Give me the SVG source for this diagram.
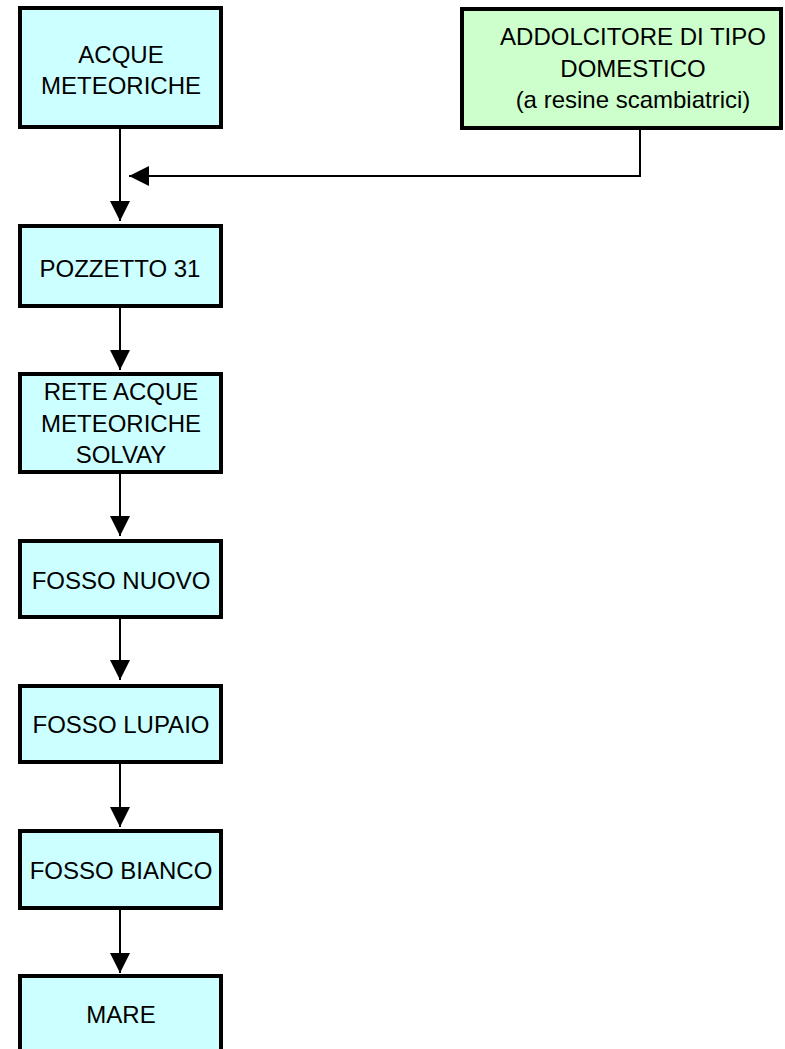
<svg xmlns="http://www.w3.org/2000/svg" width="785" height="1049" viewBox="0 0 785 1049">
<style>
.box{stroke:#000;stroke-width:4}
.cyan{fill:#CCFFFF}
.green{fill:#CCFFCC}
text{font-family:"Liberation Sans",Arial,sans-serif;font-size:24px;fill:#000;text-anchor:middle}
.conn{stroke:#000;stroke-width:2;fill:none}
</style>
<defs>
<marker id="ah" viewBox="0 0 20 20" refX="20" refY="10" markerWidth="20" markerHeight="20" markerUnits="userSpaceOnUse" orient="auto">
<path d="M0,0 L20,10 L0,20 Z" fill="#000"/>
</marker>
</defs>
<rect width="785" height="1049" fill="#fff"/>
<g id="connectors">
<line class="conn" x1="120" y1="129" x2="120" y2="221" marker-end="url(#ah)"/>
<polyline class="conn" points="640,130 640,176 129,176" marker-end="url(#ah)"/>
<line class="conn" x1="120" y1="308" x2="120" y2="370" marker-end="url(#ah)"/>
<line class="conn" x1="120" y1="474" x2="120" y2="536" marker-end="url(#ah)"/>
<line class="conn" x1="120" y1="619" x2="120" y2="680" marker-end="url(#ah)"/>
<line class="conn" x1="120" y1="764" x2="120" y2="827" marker-end="url(#ah)"/>
<line class="conn" x1="120" y1="910" x2="120" y2="973" marker-end="url(#ah)"/>
</g>
<g id="acque-meteoriche">
<rect class="box cyan" x="20" y="8" width="201" height="119"/>
<text x="121" y="63">ACQUE</text>
<text x="121" y="94">METEORICHE</text>
</g>
<g id="addolcitore">
<rect class="box green" x="462" y="9" width="319" height="119"/>
<text x="633" y="45">ADDOLCITORE DI TIPO</text>
<text x="633" y="77">DOMESTICO</text>
<text x="633" y="108">(a resine scambiatrici)</text>
</g>
<g id="pozzetto-31">
<rect class="box cyan" x="20" y="226" width="201" height="80"/>
<text x="120" y="277">POZZETTO 31</text>
</g>
<g id="rete-acque-meteoriche">
<rect class="box cyan" x="20" y="374" width="201" height="98"/>
<text x="121" y="400">RETE ACQUE</text>
<text x="121" y="432">METEORICHE</text>
<text x="121" y="463">SOLVAY</text>
</g>
<g id="fosso-nuovo">
<rect class="box cyan" x="20" y="541" width="201" height="76"/>
<text x="121" y="589">FOSSO NUOVO</text>
</g>
<g id="fosso-lupaio">
<rect class="box cyan" x="20" y="686" width="201" height="76"/>
<text x="121" y="733">FOSSO LUPAIO</text>
</g>
<g id="fosso-bianco">
<rect class="box cyan" x="20" y="831" width="201" height="77"/>
<text x="121" y="879">FOSSO BIANCO</text>
</g>
<g id="mare">
<rect class="box cyan" x="20" y="976" width="201" height="100"/>
<text x="121" y="1023">MARE</text>
</g>
</svg>
